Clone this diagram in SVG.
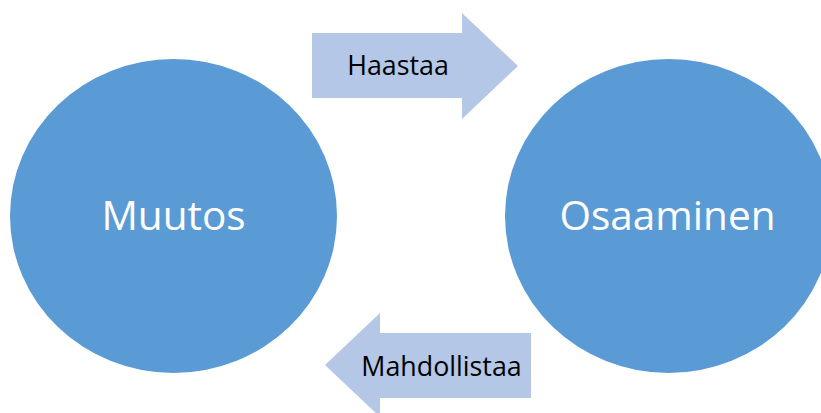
<svg xmlns="http://www.w3.org/2000/svg" width="821" height="413" viewBox="0 0 821 413">
<style>
.node{fill:#5b9bd5}
.arrow{fill:#b4c7e7}
.big{font-family:"Open Sans","Noto Sans",sans-serif;font-size:40.5px;fill:#ffffff;text-anchor:middle}
.lbl{font-family:"Open Sans","Noto Sans",sans-serif;font-size:26.8px;fill:#000000;text-anchor:middle}
</style>
<rect width="821" height="413" fill="#ffffff"/>
<g id="connectors">
<g id="haastaa">
<polygon class="arrow" points="312,33 462,33 462,13 518,66 462,119 462,98 312,98"/>
<text class="lbl" x="398" y="75">Haastaa</text>
</g>
<g id="mahdollistaa">
<polygon class="arrow" points="531,333 380,333 380,313 325,365 380,417 380,398 531,398"/>
<text class="lbl" x="441.5" y="376">Mahdollistaa</text>
</g>
</g>
<g id="muutos">
<ellipse class="node" cx="173.5" cy="216" rx="163.5" ry="157"/>
<text class="big" x="173.5" y="230">Muutos</text>
</g>
<g id="osaaminen">
<ellipse class="node" cx="668.5" cy="216" rx="163.5" ry="157"/>
<text class="big" x="667.5" y="230">Osaaminen</text>
</g>
</svg>
